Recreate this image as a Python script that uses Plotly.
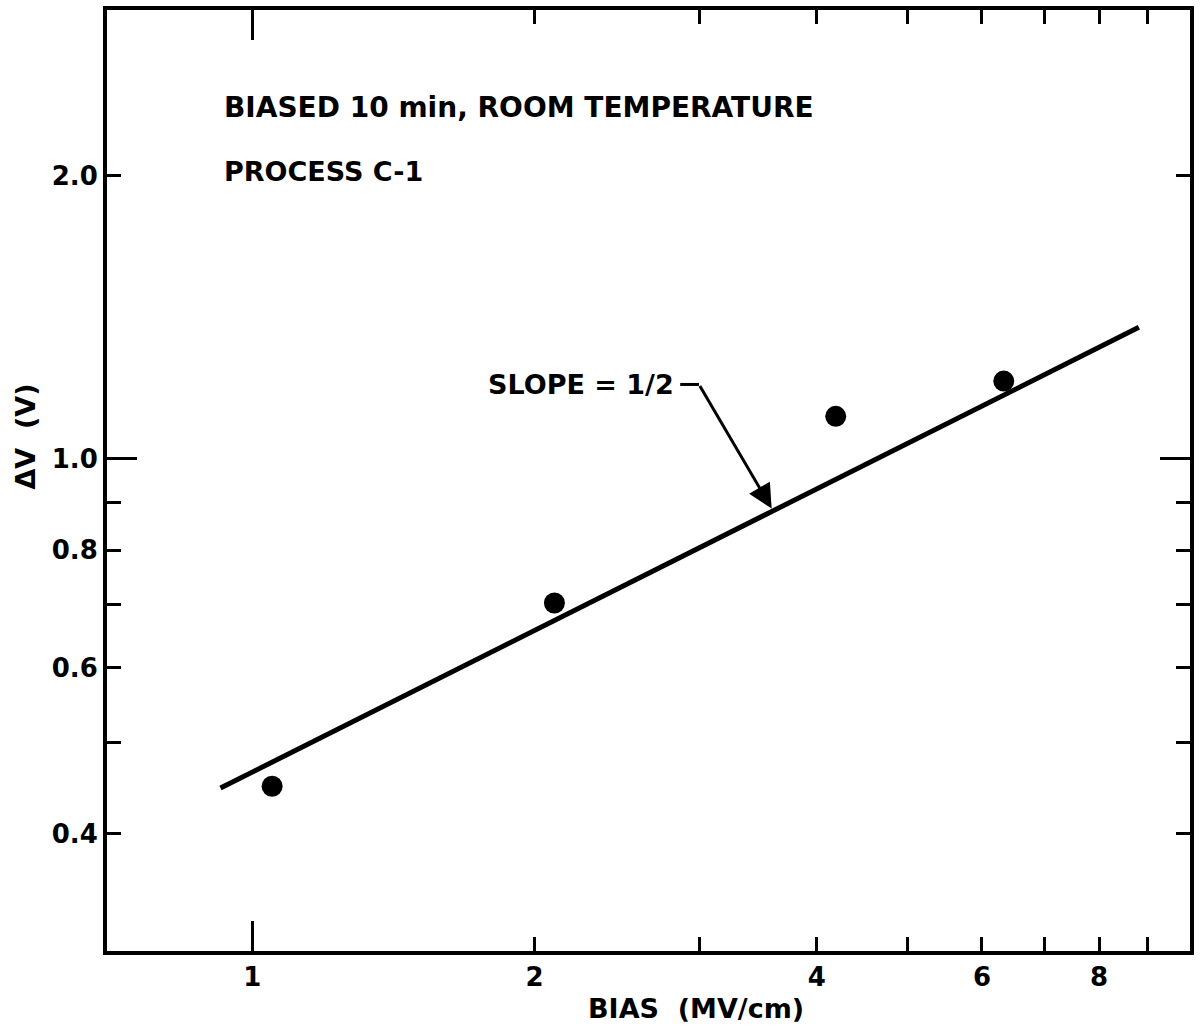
import math
import plotly.graph_objects as go

# Measured threshold shift vs. applied bias field (log-log)
bias_mv_cm = [1.05, 2.10, 4.19, 6.33]
delta_v = [0.449, 0.703, 1.11, 1.21]

# Slope-1/2 reference line end points
fit_bias = [0.925, 8.82]
fit_dv = [0.447, 1.38]

# Axis ticks
x_tickvals = [1, 2, 3, 4, 5, 6, 7, 8, 9]
x_ticktext = ["1", "2", "", "4", "", "6", "", "8", ""]
y_tickvals = [0.4, 0.5, 0.6, 0.7, 0.8, 0.9, 1.0, 2.0]
y_ticktext = ["0.4", "", "0.6", "", "0.8", "", "1.0", "2.0"]

x_range = [0.7, 10.0]
y_range = [0.3, 3.0]

# Leader for the slope callout: text end -> bend -> point on the line
leader_x = [2.86, 2.995, 3.58]
leader_y = [1.20, 1.20, 0.886]

INK = "#000000"
FONT = dict(family="DejaVu Sans", size=27, color=INK, weight="bold")
TICKFONT = dict(family="DejaVu Sans", size=26, color=INK, weight="bold")

fig = go.Figure()

fig.add_trace(go.Scatter(
    x=fit_bias, y=fit_dv, mode="lines",
    line=dict(color=INK, width=5), hoverinfo="skip", showlegend=False,
))
fig.add_trace(go.Scatter(
    x=bias_mv_cm, y=delta_v, mode="markers",
    marker=dict(color=INK, size=21, line=dict(width=0)),
    showlegend=False,
))
# short horizontal piece of the callout leader
fig.add_trace(go.Scatter(
    x=leader_x[:2], y=leader_y[:2], mode="lines",
    line=dict(color=INK, width=3), hoverinfo="skip", showlegend=False,
))
# empty trace to bring up the overlay axes carrying the long unit ticks
fig.add_trace(go.Scatter(x=[], y=[], xaxis="x2", yaxis="y2", showlegend=False))

axis_common = dict(
    type="log", showgrid=False, zeroline=False,
    showline=True, linecolor=INK, linewidth=4,
    ticks="inside", tickcolor=INK, tickwidth=3, ticklen=14,
    mirror="allticks",
)

fig.update_layout(
    width=1200, height=1028,
    margin=dict(l=107, r=6, t=10, b=77),
    paper_bgcolor="white", plot_bgcolor="white",
    xaxis=dict(
        **axis_common,
        range=[math.log10(x_range[0]), math.log10(x_range[1])],
        tickmode="array", tickvals=x_tickvals, ticktext=x_ticktext,
        tickfont=TICKFONT, ticklabelstandoff=0,
    ),
    yaxis=dict(
        **axis_common,
        range=[math.log10(y_range[0]), math.log10(y_range[1])],
        tickmode="array", tickvals=y_tickvals, ticktext=y_ticktext,
        tickfont=TICKFONT, ticklabelstandoff=0,
    ),
    xaxis2=dict(
        **{**axis_common, "ticklen": 30},
        range=[math.log10(x_range[0]), math.log10(x_range[1])],
        overlaying="x", anchor="y2", side="bottom",
        tickmode="array", tickvals=[1], showticklabels=False,
    ),
    yaxis2=dict(
        **{**axis_common, "ticklen": 30},
        range=[math.log10(y_range[0]), math.log10(y_range[1])],
        overlaying="y", anchor="x2", side="left",
        tickmode="array", tickvals=[1.0], showticklabels=False,
    ),
)

annotations = [
    dict(text="BIASED 10 min, ROOM TEMPERATURE", xref="paper", yref="paper",
         x=0.1058, y=0.896, xanchor="left", yanchor="middle",
         showarrow=False, font={**FONT, "size": 28}),
    dict(text="PROCESS C-1", xref="paper", yref="paper",
         x=0.1058, y=0.828, xanchor="left", yanchor="middle",
         showarrow=False, font=FONT),
    dict(text="SLOPE = 1/2", xref="x", yref="y",
         x=math.log10(2.83), y=math.log10(1.20), xanchor="right", yanchor="middle",
         showarrow=False, font=FONT),
    # arrow from the bend down to the fitted line
    dict(text="", xref="x", yref="y", axref="x", ayref="y",
         x=math.log10(leader_x[2]), y=math.log10(leader_y[2]),
         ax=math.log10(leader_x[1]), ay=math.log10(leader_y[1]),
         showarrow=True, arrowhead=2, arrowsize=1.6, arrowwidth=3,
         arrowcolor=INK, standoff=0),
    dict(text="BIAS  (MV/cm)", xref="paper", yref="paper",
         x=0.5437, y=-0.0606, xanchor="center", yanchor="middle",
         showarrow=False, font=FONT),
    dict(text="ΔV  (V)", xref="paper", yref="paper",
         x=-0.0754, y=0.547, xanchor="center", yanchor="middle",
         textangle=-90, showarrow=False, font=FONT),
]
fig.update_layout(annotations=annotations)

fig.write_html("out.html")
